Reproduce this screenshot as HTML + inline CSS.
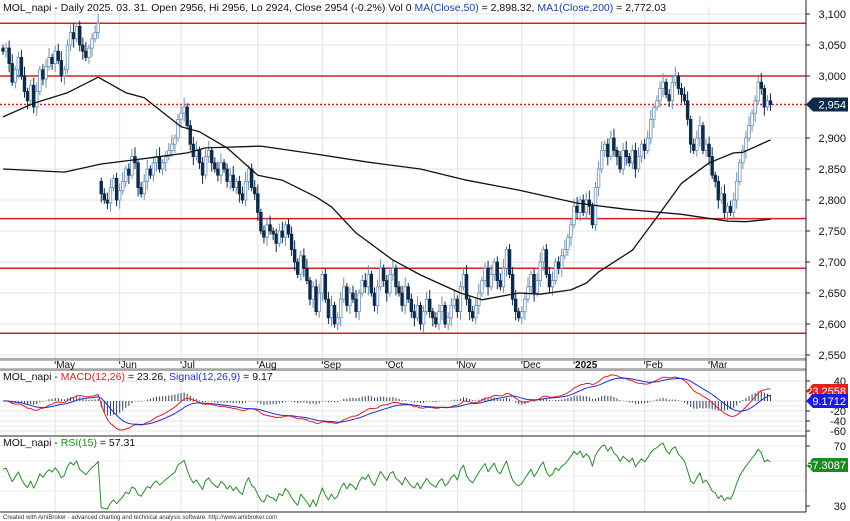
<!DOCTYPE html>
<html><head><meta charset="utf-8"><style>
body{margin:0;background:#fff;font-family:"Liberation Sans",Arial,sans-serif}
svg{display:block}
text{font-family:"Liberation Sans",Arial,sans-serif}
</style></head><body>
<svg id="c" width="850" height="521" viewBox="0 0 850 521">
<rect width="850" height="521" fill="#fff"/>
</svg>
<script>
const closes=[3040,3045,3020,2990,3010,3030,3000,2975,2960,2985,2950,2975,3010,2995,3015,3030,3020,3040,3025,3000,
3010,3050,3070,3060,3080,3050,3040,3030,3045,3060,3070,3085,2810,2800,2795,2820,2835,2800,2815,2830,2850,2840,2870,2860,
2820,2810,2830,2850,2840,2860,2870,2850,2860,2870,2880,2890,2900,2930,2940,2950,2920,2890,2870,2880,2860,2840,2870,2880,2860,
2850,2840,2860,2850,2830,2840,2820,2830,2810,2800,2830,2850,2820,2810,2780,2750,2740,2760,2750,2745,2730,2750,2740,2760,2745,
2720,2700,2680,2710,2690,2670,2640,2660,2620,2650,2680,2640,2610,2630,2600,2610,2640,2660,2630,2650,2640,2620,2650,2670,2660,
2680,2650,2630,2660,2690,2670,2650,2680,2690,2660,2650,2630,2660,2640,2620,2610,2630,2600,2620,2640,2620,2610,2600,2620,2630,
2600,2610,2630,2640,2620,2660,2680,2640,2620,2610,2630,2650,2670,2690,2660,2680,2700,2670,2660,2690,2720,2680,2640,2620,2610,
2620,2640,2660,2680,2650,2670,2700,2720,2680,2660,2670,2700,2690,2710,2720,2740,2760,2790,2780,2800,2780,2800,2790,2760,2820,
2850,2880,2890,2870,2900,2880,2870,2850,2880,2870,2860,2880,2850,2870,2890,2880,2900,2930,2950,2960,2980,2990,2970,2960,2990,
3000,2980,2970,2960,2930,2890,2880,2900,2920,2880,2890,2870,2840,2830,2800,2810,2780,2790,2780,2800,2830,2860,2880,2900,2920,
2940,2960,2990,2980,2950,2960,2954];
const ma50Idx=[0,10,21,31,40,46,58,64,73,83,91,102,107,115,127,136,149,156,168,175,185,190,194,205,214,221,230,238,241,250];
const ma50Val=[2934,2956,2973,2998,2973,2965,2918,2910,2884,2840,2832,2805,2789,2747,2703,2679,2650,2639,2650,2648,2655,2666,2684,2719,2779,2827,2860,2876,2877,2897];
const ma200Idx=[0,20,32,48,60,66,84,102,119,136,151,168,187,203,221,236,242,250];
const ma200Val=[2850,2845,2858,2868,2876,2884,2887,2874,2861,2850,2832,2816,2795,2785,2777,2766,2765,2769];
const priceTicks=[3100,3050,3000,2950,2900,2850,2800,2750,2700,2650,2600,2550];
const supportLevels=[3085,3000,2770,2690,2585];
const months=["May","Jun","Jul","Aug","Sep","Oct","Nov","Dec","2025","Feb","Mar"];
const monthIdx=[17,38,58,83,104,125,148,169,186,209,230];
const macdTicks=[40,0,-20,-40,-60];
const rsiTicks=[70,30];

const NS="http://www.w3.org/2000/svg",svg=document.getElementById('c');
function mk(t,a,p){const e=document.createElementNS(NS,t);for(const k in a)e.setAttribute(k,a[k]);(p||svg).appendChild(e);return e;}
const xOf=i=>3+i*3.07;
const yP=p=>14+(3100-p)*0.62;
const yM=v=>401-v*0.5;
const yR=v=>446+(70-v)*1.5;
const RX=806;

const grid=mk('g',{});
monthIdx.forEach(i=>{const x=xOf(i);
 [[7,359],[371,436],[437,512]].forEach(r=>mk('line',{x1:x,x2:x,y1:r[0],y2:r[1],stroke:'#e3e3e3'},grid));});
priceTicks.forEach(p=>mk('line',{x1:0,x2:RX,y1:yP(p),y2:yP(p),stroke:'#e3e3e3'},grid));
macdTicks.forEach(v=>mk('line',{x1:0,x2:RX,y1:yM(v),y2:yM(v),stroke:'#e3e3e3'},grid));
[-10,-30,-50].forEach(v=>mk('line',{x1:0,x2:RX,y1:yM(v),y2:yM(v),stroke:'#ececec'},grid));
[40,50,60,70].forEach(v=>mk('line',{x1:0,x2:RX,y1:yR(v),y2:yR(v),stroke:'#ececec'},grid));

supportLevels.forEach(p=>{const l=mk('line',{x1:0,x2:RX,y1:yP(p),y2:yP(p),stroke:'#d42020','stroke-width':1.5});
 });
const last=closes[closes.length-1];
const dl=mk('line',{x1:0,x2:RX,y1:yP(last),y2:yP(last),stroke:'#d42020','stroke-width':1.5,'stroke-dasharray':'2,2'});


const cg=mk('g',{});
closes.forEach((c,i)=>{let o=i?closes[i-1]:c+5;if(i&&Math.abs(c-o)>100)o=c+20;const x=xOf(i);
 const hi=Math.max(o,c)+6+(i%4)*3,lo=Math.min(o,c)-6-(i%3)*4;const up=c>=o;
 mk('line',{x1:x,x2:x,y1:yP(hi),y2:yP(lo),stroke:up?'#6f8fb0':'#0d2a4a'},cg);
 const t=yP(Math.max(o,c)),b=yP(Math.min(o,c));
 const r=mk('rect',{x:x-1.3,y:t,width:2.6,height:Math.max(1,b-t),fill:up?'#fff':'#0d2a4a',stroke:up?'#6f8fb0':'#0d2a4a','stroke-width':0.8},cg);
 });

function line(idx,val,yf,col,name,w){const d=idx.map((i,k)=>(k?'L':'M')+xOf(i).toFixed(1)+','+yf(val[k]).toFixed(1)).join('');
 const p=mk('path',{d:d,fill:'none',stroke:col,'stroke-width':w||1.3,'stroke-linejoin':'round'});}
line(ma50Idx,ma50Val,yP,'#111','ma50-line');
line(ma200Idx,ma200Val,yP,'#111','ma200-line');

function ema(a,n){const k=2/(n+1);let e=a[0];return a.map(v=>e=v*k+e*(1-k));}
const e12=ema(closes,12),e26=ema(closes,26);const macd=e12.map((v,i)=>v-e26[i]);const sig=ema(macd,9);
const all=closes.map((c,i)=>i);
const hg=mk('g',{});
macd.forEach((m,i)=>{const h=m-sig[i];mk('line',{x1:xOf(i),x2:xOf(i),y1:yM(0),y2:yM(h),stroke:'#2b3f5f','stroke-width':1},hg);});
line(all,macd,yM,'#e02020','macd-line',1);
line(all,sig,yM,'#2030d0','signal-line',1);
const rsi=[];let ag=12,al=10;const N=15;
closes.forEach((c,i)=>{if(!i){rsi.push(100-100/(1+ag/al));return;}const d=c-closes[i-1];const g=Math.max(d,0),l=Math.max(-d,0);
 ag=(ag*(N-1)+g)/N;al=(al*(N-1)+l)/N;
 rsi.push(al===0?100:100-100/(1+ag/al));});
line(all,rsi,yR,'#2a8a2a','rsi-line',1);

[[359,'#555'],[370,'#555'],[436,'#222'],[512,'#222']].forEach(a=>mk('line',{x1:0,x2:RX,y1:a[0],y2:a[0],stroke:a[1]}));
mk('line',{x1:0,x2:RX,y1:360.5,y2:360.5,stroke:'#bbb'});mk('line',{x1:0,x2:RX,y1:368.5,y2:368.5,stroke:'#bbb'});
mk('line',{x1:RX,x2:RX,y1:0,y2:512,stroke:'#222'});
months.forEach((m,i)=>{const x=xOf(monthIdx[i]);mk('line',{x1:x,x2:x,y1:361,y2:364,stroke:'#333'});
 const t=mk('text',{x:x+1,y:368,'font-size':10,fill:'#111','font-weight':m==='2025'?'bold':'normal'});t.textContent=m;
 });
function tick(y,txt,name){mk('line',{x1:RX,x2:RX+4,y1:y,y2:y,stroke:'#222'});const t=mk('text',{x:846,y:y+4,'font-size':11,'text-anchor':'end',fill:'#111'});t.textContent=txt;
 }
priceTicks.forEach(p=>{if(p!==2950)tick(yP(p),p.toLocaleString('en-US'),'price-tick');});
macdTicks.forEach(v=>tick(yM(v),String(v),'macd-tick'));
rsiTicks.forEach(v=>tick(yR(v),String(v),'rsi-tick'));
function tag(y,txt,col,name){const g=mk('g',{});
 mk('path',{d:`M${RX},${y} L${RX+7},${y-7} H848 V${y+7} H${RX+7} Z`,fill:col},g);
 const t=mk('text',{x:846,y:y+4,'font-size':11,'text-anchor':'end',fill:'#fff'},g);t.textContent=txt;}
tag(yP(last),'2,954','#0d2a4a','last-price-tag');
tag(391,'23.2558','#e02020','macd-value-tag');
tag(401,'9.1712','#1a1ae0','signal-value-tag');
tag(465,'57.3087','#1f8a1f','rsi-value-tag');
</script>
<svg width="850" height="521" style="position:absolute;left:0;top:0">
<text x="3" y="11" font-size="10.5" fill="#111">MOL_napi - Daily 2025. 03. 31. Open 2956, Hi 2956, Lo 2924, Close 2954 (-0.2%) Vol 0 <tspan fill="#1a3fa0">MA(Close,50)</tspan> = 2,898.32, <tspan fill="#1a3fa0">MA1(Close,200)</tspan> = 2,772.03</text>
<text x="3" y="380" font-size="10.5" fill="#111">MOL_napi - <tspan fill="#e02020">MACD(12,26)</tspan> = 23.26, <tspan fill="#2030d0">Signal(12,26,9)</tspan> = 9.17</text>
<text x="3" y="446" font-size="10.5" fill="#111">MOL_napi - <tspan fill="#1f8a1f">RSI(15)</tspan> = 57.31</text>
<text x="3" y="519" font-size="6" fill="#333">Created with AmiBroker - advanced charting and technical analysis software. http://www.amibroker.com</text>
</svg>
</body></html>
